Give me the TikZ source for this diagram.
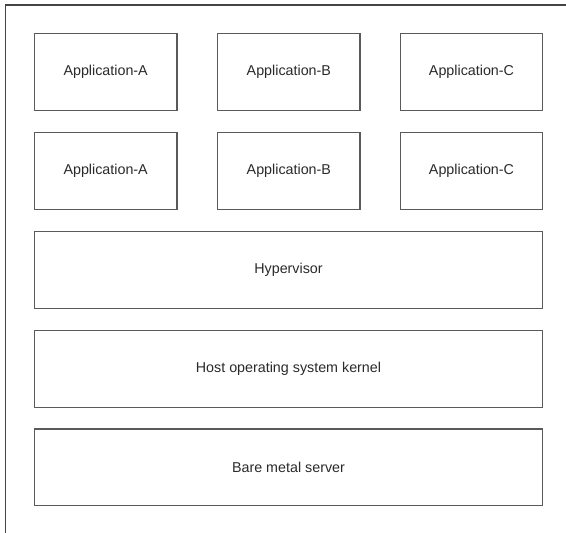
\documentclass[tikz,border=0pt]{standalone}
\usepackage{fontspec}
\setmainfont{Liberation Sans}
\definecolor{boxline}{HTML}{5A5A5A}
\definecolor{frameline}{HTML}{444444}
\definecolor{txt}{HTML}{2A2A2A}
\begin{document}
\begin{tikzpicture}[x=1pt,y=-1pt,
  layer/.style={draw=boxline,line width=1.2pt,fill=white,inner sep=0pt,
    font=\fontsize{14.3}{16}\selectfont,text=txt},
  outerframe/.style={draw=frameline,line width=1.6pt}]
\useasboundingbox (0,0) rectangle (566,533);
\draw[outerframe] (5.5,533) -- (5.5,5) -- (566,5);
% rows: 33.7-110.7, 132.3-209.5, 231.3-308.3, 330-407.3, 429-505.7
% cols: 34.3-177, 217.7-360, 400.3-542.7
\node[layer,minimum width=142.7pt,minimum height=77pt] (a1) at (105.65,72.2) {Application-A};
\node[layer,minimum width=142.3pt,minimum height=77pt] (b1) at (288.85,72.2) {Application-B};
\node[layer,minimum width=142.4pt,minimum height=77pt] (c1) at (471.5,72.2) {Application-C};
\node[layer,minimum width=142.7pt,minimum height=77pt] (a2) at (105.65,170.9) {Application-A};
\node[layer,minimum width=142.3pt,minimum height=77pt] (b2) at (288.85,170.9) {Application-B};
\node[layer,minimum width=142.4pt,minimum height=77pt] (c2) at (471.5,170.9) {Application-C};
\node[layer,minimum width=508.4pt,minimum height=77pt] (hyp) at (288.5,269.8) {Hypervisor};
\node[layer,minimum width=508.4pt,minimum height=77pt] (host) at (288.5,368.65) {Host operating system kernel};
\node[layer,minimum width=508.4pt,minimum height=76.7pt] (bare) at (288.5,467.35) {Bare metal server};
\end{tikzpicture}
\end{document}
